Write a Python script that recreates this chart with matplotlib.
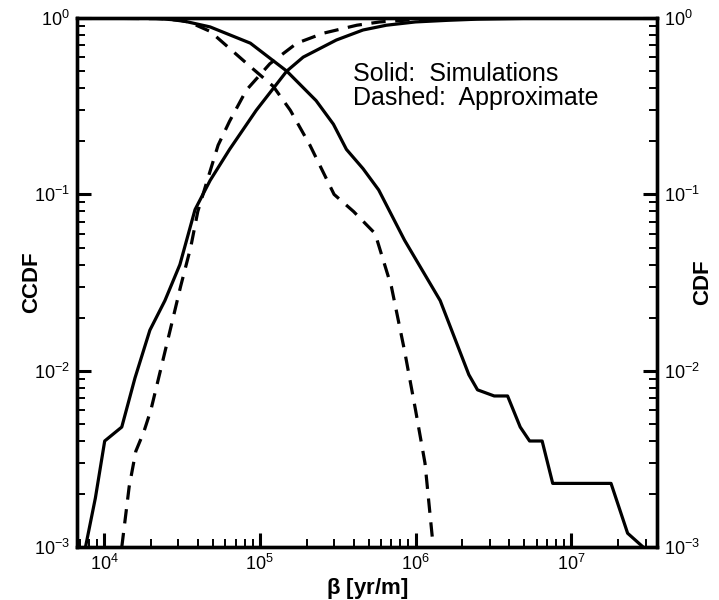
import matplotlib
matplotlib.use("Agg")
import matplotlib.pyplot as plt
from matplotlib.ticker import LogLocator, NullFormatter

plt.rcParams["font.family"] = ["Liberation Sans", "DejaVu Sans"]
plt.rcParams["mathtext.default"] = "regular"

# solid = simulations, dashed = approximate
sim_ccdf_x = [6.7e3, 2.0e4, 3.1e4, 4.8e4, 8.7e4, 1.49e5, 2.3e5, 2.97e5, 3.6e5, 4.6e5,
              5.8e5, 8.5e5, 1.44e6, 2.2e6, 2.5e6, 3.2e6, 3.9e6, 4.7e6, 5.4e6, 6.5e6,
              7.6e6, 1.0e7, 1.8e7, 2.3e7, 2.9e7]
sim_ccdf_y = [1.0, 1.0, 0.97, 0.89, 0.72, 0.50, 0.34, 0.25, 0.18, 0.14,
              0.106, 0.055, 0.025, 0.0095, 0.0078, 0.0072, 0.0072, 0.0048, 0.0040, 0.0040,
              0.0023, 0.0023, 0.0023, 0.0012, 0.001]

sim_cdf_x = [7.6e3, 8.8e3, 1.01e4, 1.3e4, 1.58e4, 1.97e4, 2.46e4, 3.07e4, 3.84e4, 4.8e4,
             6.4e4, 9.5e4, 1.49e5, 1.9e5, 3.1e5, 4.6e5, 6.5e5, 1.0e6, 1.6e6, 2.5e6,
             5.0e6, 1.0e7, 3.5e7]
sim_cdf_y = [0.001, 0.0019, 0.0040, 0.0048, 0.0091, 0.017, 0.025, 0.040, 0.082, 0.12,
             0.18, 0.30, 0.50, 0.60, 0.75, 0.855, 0.91, 0.95, 0.97, 0.985,
             0.995, 1.0, 1.0]

apx_ccdf_x = [6.7e3, 2.5e4, 3.5e4, 4.8e4, 8.7e4, 1.22e5, 1.57e5, 2.1e5, 3.0e5, 4.0e5,
              5.5e5, 7.0e5, 8.5e5, 1.0e6, 1.15e6, 1.3e6]
apx_ccdf_y = [1.0, 0.99, 0.95, 0.84, 0.53, 0.41, 0.30, 0.19, 0.10, 0.08,
              0.06, 0.03, 0.013, 0.006, 0.003, 0.001]

apx_cdf_x = [1.3e4, 1.45e4, 1.6e4, 1.8e4, 2.0e4, 2.3e4, 2.7e4, 3.1e4, 3.6e4, 4.0e4,
             4.6e4, 5.4e4, 6.4e4, 8.2e4, 1.16e5, 1.73e5, 2.56e5, 4.2e5, 5.9e5, 1.0e6,
             2.0e6, 5.0e6, 3.5e7]
apx_cdf_y = [0.001, 0.0022, 0.0035, 0.0045, 0.006, 0.010, 0.018, 0.030, 0.050, 0.080,
             0.12, 0.19, 0.26, 0.39, 0.55, 0.72, 0.82, 0.91, 0.95, 0.98,
             0.995, 1.0, 1.0]

fig = plt.figure(figsize=(7.19, 6.0), dpi=100)
ax = fig.add_axes([0.107, 0.088, 0.807, 0.882])

LW = 2.3
ax.plot(sim_ccdf_x, sim_ccdf_y, color="black", lw=LW)
ax.plot(sim_cdf_x, sim_cdf_y, color="black", lw=LW)
ax.plot(apx_ccdf_x, apx_ccdf_y, color="black", lw=LW, ls=(0, (4.5, 3)))
ax.plot(apx_cdf_x, apx_cdf_y, color="black", lw=LW, ls=(0, (4.5, 3)))

ax.set_xscale("log")
ax.set_yscale("log")
ax.set_xlim(6.7e3, 3.56e7)
ax.set_ylim(1e-3, 1.0)

ax2 = ax.twinx()
ax2.set_yscale("log")
ax2.set_ylim(1e-3, 1.0)

for a in (ax, ax2):
    for s in a.spines.values():
        s.set_linewidth(2.4)
    a.yaxis.set_major_locator(LogLocator(base=10, numticks=10))
    a.yaxis.set_minor_locator(LogLocator(base=10, subs=range(2, 10), numticks=10))
    a.yaxis.set_minor_formatter(NullFormatter())

ax.xaxis.set_major_locator(LogLocator(base=10, numticks=10))
ax.xaxis.set_minor_locator(LogLocator(base=10, subs=range(2, 10), numticks=10))
ax.xaxis.set_minor_formatter(NullFormatter())

ax.tick_params(which="both", direction="in", top=False, right=False, labelsize=13, pad=5)
ax.tick_params(which="major", length=10, width=2.2)
ax.tick_params(which="minor", length=6, width=1.4)
ax2.tick_params(which="both", direction="in", labelsize=13, pad=5)
ax2.tick_params(which="major", length=10, width=2.2)
ax2.tick_params(which="minor", length=6, width=1.4)

ax.set_xlabel(r"$\beta$ [yr/m]", fontsize=16, fontweight="bold", labelpad=1)
ax.set_ylabel("CCDF", fontsize=16, fontweight="bold", labelpad=-6)
ax2.set_ylabel("CDF", fontsize=16, fontweight="bold", labelpad=-6)

ax.text(0.475, 0.916, "Solid:  Simulations\nDashed:  Approximate", transform=ax.transAxes,
        fontsize=18, va="top", ha="left", linespacing=1.0)

plt.savefig("out.png", dpi=100)
